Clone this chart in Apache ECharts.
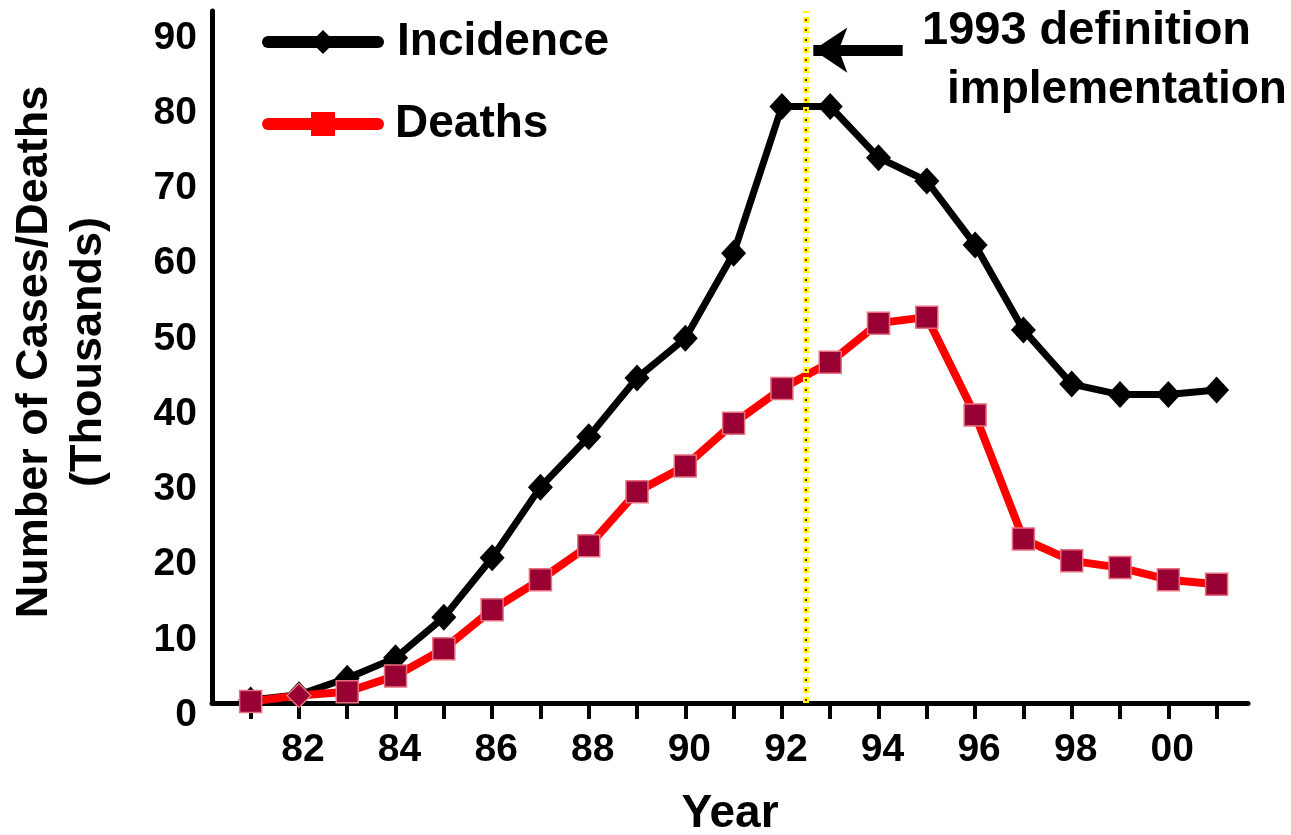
<!DOCTYPE html>
<html>
<head>
<meta charset="utf-8">
<script src="https://cdn.jsdelivr.net/npm/echarts@6/dist/echarts.min.js"></script>
<style>
  html, body { margin: 0; padding: 0; background: #fff; }
  #main { width: 1291px; height: 835px; }
</style>
</head>
<body>
<div id="main"></div>
<script>
// data (thousands)
var years = [1981, 1982, 1983, 1984, 1985, 1986, 1987, 1988, 1989, 1990, 1991,
             1992, 1993, 1994, 1995, 1996, 1997, 1998, 1999, 2000, 2001];
var incidence = [0.4, 1.1, 3.3, 6.0, 11.4, 19.3, 28.7, 35.4, 43.2, 48.5, 59.8,
                 79.3, 79.3, 72.5, 69.4, 60.9, 49.6, 42.4, 41.0, 41.0, 41.6];
var deaths = [0.2, 1.0, 1.5, 3.6, 7.2, 12.4, 16.4, 20.9, 28.1, 31.5, 37.2,
              41.8, 45.3, 50.5, 51.3, 38.3, 21.8, 18.9, 18.0, 16.4, 15.8];
var xTicks = [81, 82, 83, 84, 85, 86, 87, 88, 89, 90, 91, 92, 93, 94, 95, 96, 97, 98, 99, 100, 101];
var xLabels = [82, 84, 86, 88, 90, 92, 94, 96, 98, 100];
var yLabels = [0, 10, 20, 30, 40, 50, 60, 70, 80, 90];
var definitionYear = 92.5;

var font = '"Liberation Sans", Arial, sans-serif';

function pairs(vals) {
  return vals.map(function (v, i) { return [years[i] - 1900, v]; });
}

// the 1982 deaths point is drawn as a diamond in the original
var deathsData = pairs(deaths).map(function (p, i) {
  return i === 1 ? { value: p, symbol: 'diamond', symbolSize: 24 } : p;
});

var chart = echarts.init(document.getElementById('main'));

var option = {
  animation: false,
  backgroundColor: '#fff',
  grid: { left: 212, right: 43, top: 11, bottom: 132, outerBoundsMode: 'none' },
  legend: {
    orient: 'vertical',
    left: 262,
    top: 19,
    padding: 0,
    itemWidth: 110,
    itemHeight: 30,
    itemGap: 26,
    lineStyle: { width: 12, cap: 'round' },
    textStyle: { fontFamily: font, fontWeight: 'bold', fontSize: 46, lineHeight: 46, color: '#000', padding: [0, 0, 0, 14] },
    data: [
      { name: 'Incidence' },
      { name: 'Deaths', itemStyle: { color: '#ff0000', borderWidth: 0 }, textStyle: { padding: [20, 0, 0, 12] } }
    ]
  },
  xAxis: {
    type: 'value',
    min: 80.2,
    max: 101.65,
    name: 'Year',
    nameLocation: 'middle',
    nameGap: 88,
    nameTextStyle: { fontFamily: font, fontWeight: 'bold', fontSize: 46, color: '#000' },
    axisLine: { lineStyle: { color: '#000', width: 5 } },
    axisTick: { show: true, customValues: xTicks, length: 16, lineStyle: { color: '#000', width: 4 } },
    axisLabel: {
      customValues: xLabels,
      margin: 28,
      fontFamily: font, fontWeight: 'bold', fontSize: 39, color: '#000',
      padding: [0, 0, 0, 8],
      formatter: function (v) { var n = Math.round(v) % 100; return (n < 10 ? '0' : '') + n; }
    },
    splitLine: { show: false }
  },
  yAxis: {
    type: 'value',
    min: 0,
    max: 92,
    axisLine: { show: true, lineStyle: { color: '#000', width: 5 } },
    axisTick: { show: false },
    axisLabel: {
      customValues: yLabels,
      margin: 15,
      fontFamily: font, fontWeight: 'bold', fontSize: 39, color: '#000',
      lineHeight: 24,
      // labels sit a little below their ticks in the original
      formatter: function (v) { return '\n' + v; }
    },
    splitLine: { show: false }
  },
  graphic: [
    {
      type: 'text', x: 62, y: 352, rotation: Math.PI / 2,
      style: {
        text: 'Number of Cases/Deaths\n(Thousands)',
        font: 'bold 45px ' + font, fill: '#000',
        align: 'center', verticalAlign: 'middle', lineHeight: 54
      }
    },
    {
      type: 'text', x: 922, y: 31,
      style: { text: '1993 definition', font: 'bold 47px ' + font, fill: '#000', align: 'left', verticalAlign: 'middle' }
    },
    {
      type: 'text', x: 947, y: 90,
      style: { text: 'implementation', font: 'bold 46px ' + font, fill: '#000', align: 'left', verticalAlign: 'middle' }
    }
  ],
  series: [
    {
      name: 'Incidence',
      type: 'line',
      data: pairs(incidence),
      symbol: 'diamond',
      symbolSize: [25, 27],
      lineStyle: { color: '#000', width: 7 },
      itemStyle: { color: '#000' },
      markLine: {
        silent: true,
        symbol: 'none',
        label: { show: false },
        emphasis: { disabled: true },
        data: [
          { xAxis: definitionYear, lineStyle: { color: '#ffff00', width: 6, type: [6, 4] } },
          { xAxis: definitionYear, lineStyle: { color: '#990033', width: 2, type: [2, 8], dashOffset: -2 } },
          [
            { coord: [94.5, 86.8], symbol: 'none', lineStyle: { color: '#000', width: 11, type: 'solid' } },
            { coord: [92.65, 86.8], symbol: 'arrow', symbolSize: 34 }
          ]
        ]
      }
    },
    {
      name: 'Deaths',
      type: 'line',
      data: deathsData,
      symbol: 'rect',
      symbolSize: 22,
      lineStyle: { color: '#ff0000', width: 8 },
      itemStyle: { color: '#990033', borderColor: '#e8707f', borderWidth: 1.5 }
    }
  ]
};

chart.setOption(option);
</script>
</body>
</html>
